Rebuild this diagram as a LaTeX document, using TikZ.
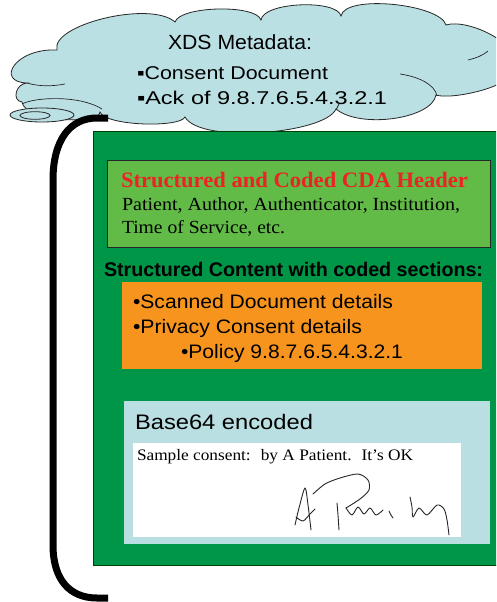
\documentclass[tikz,border=0pt]{standalone}
\usepackage{fontspec}
\usepackage{graphicx}
\setmainfont{Liberation Sans}
\newfontfamily\timesf{Liberation Serif}
\definecolor{cloudfill}{RGB}{187,224,228}
\definecolor{outergreen}{RGB}{0,150,72}
\definecolor{hdrgreen}{RGB}{98,187,70}
\definecolor{boxorange}{RGB}{247,148,30}
\definecolor{boxblue}{RGB}{185,223,227}
\definecolor{hdrred}{RGB}{237,34,36}
\newcommand\tw[2]{\resizebox{#1pt}{\height}{#2}}
\newcommand\fs[1]{\fontsize{#1}{#1}\selectfont}
\begin{document}
\begin{tikzpicture}[x=1pt,y=-1pt,
  txt/.style={anchor=base west, inner sep=0pt, outer sep=0pt},
  cloudline/.style={draw=black!85, line width=0.8pt},
  inner arc/.style={draw=black!85, line width=0.7pt}]
\path[use as bounding box] (0,0) rectangle (496,602);
\clip (0,0) rectangle (496,602);
% cloud
\filldraw[fill=cloudfill, cloudline] (57,50)
  .. controls (50,25) and (150,0) .. (175,22)
  .. controls (180,6) and (256,4) .. (261,20)
  .. controls (263,2) and (337,-1) .. (341,16)
  .. controls (345,-6) and (440,4) .. (446,25)
  .. controls (468,18) and (525,45) .. (515,70)
  .. controls (510,88) and (450,100) .. (436,95)
  .. controls (432,119) and (360,129) .. (336,109)
  .. controls (325,134) and (200,144) .. (185,117)
  .. controls (180,128) and (105,126) .. (100,112)
  .. controls (100,125) and (25,122) .. (22,102)
  .. controls (12,101) and (15,84) .. (27,83)
  .. controls (-5,82) and (15,48) .. (57,50) -- cycle;
% inner arcs of the cloud
\draw[inner arc] (27,83) .. controls (40,87) and (55,86) .. (65,84);
\draw[inner arc] (22,104) .. controls (35,97) and (80,95) .. (102,109);
\draw[inner arc] (400,74) .. controls (420,77) and (435,85) .. (437,96);
\draw[inner arc] (336,110) .. controls (337,107) .. (339,104);
\draw[inner arc] (468,60) .. controls (476,58) and (482,56) .. (488,51);
% tail ellipses
\filldraw[fill=cloudfill, cloudline] (42,115) ellipse [x radius=32, y radius=7];
\filldraw[fill=cloudfill, cloudline] (35,115.5) ellipse [x radius=15, y radius=3.8];
% cloud text
\node[txt] (xds) at (168,50) {\fs{20.5}\tw{144}{XDS Metadata:}};
\node[txt] (consent) at (137,79) {\fs{18.5}\tw{191}{▪Consent Document}};
\node[txt] (ack) at (137,104) {\fs{18.5}\tw{250}{▪Ack of 9.8.7.6.5.4.3.2.1}};
% bracket
\draw[line width=7pt, line cap=butt] (108,118) -- (97,118)
  .. controls (70,118) and (53,140) .. (53,180) -- (53,545)
  .. controls (53,580) and (70,598) .. (97,598) -- (108,598);
% outer green box
\filldraw[fill=outergreen, draw=black!75!green, line width=1pt] (93,131.5) rectangle (510,565.5);
% header box
\filldraw[fill=hdrgreen, draw=black!85, line width=1pt] (107.5,160.5) rectangle (490,247.5);
\node[txt] (hdr) at (121,187) {\timesf\bfseries\fs{22}\color{hdrred}\tw{347}{Structured and Coded CDA Header}};
\node[txt] (hdr1) at (122,210) {\timesf\fs{18.5}\tw{338}{Patient, Author, Authenticator, Institution,}};
\node[txt] (hdr2) at (122,233) {\timesf\fs{18.5}\tw{163}{Time of Service, etc.}};
% structured content
\node[txt] (sc) at (104,276) {\bfseries\fs{19.7}\tw{379}{Structured Content with coded sections:}};
\fill[boxorange] (122,282) rectangle (482,369);
\node[txt] (o1) at (133,308) {\fs{19.5}\tw{260}{•Scanned Document details}};
\node[txt] (o2) at (133,333) {\fs{19.5}\tw{229}{•Privacy Consent details}};
\node[txt] (o3) at (181,358) {\fs{19.5}\tw{222}{•Policy 9.8.7.6.5.4.3.2.1}};
% base64 box
\fill[boxblue] (124,401) rectangle (490,544);
\node[txt] (b64) at (135,429) {\fs{21}\tw{178}{Base64 encoded}};
\fill[white] (133,443) rectangle (461,537);
\node[txt] (sample) at (137,460.5) {\timesf\fs{16}\tw{276}{Sample consent:~ by A Patient.~ It’s OK}};
% signature
\begin{scope}[line width=0.9pt, line cap=round, line join=round, draw=black!85]
\draw plot[smooth] coordinates {(295,525) (299,508) (305,488) (308,505) (311,530)};
\draw plot[smooth] coordinates {(296,517) (303,521) (310,514) (315,509)};
\draw plot[smooth] coordinates {(313,494) (325,484) (340,478) (358,474) (368,480) (369,490) (360,499) (346,508)};
\draw plot[smooth] coordinates {(337,503) (338,515) (339,530)};
\draw plot[smooth] coordinates {(346,508) (352,515) (358,507) (364,514) (370,508) (376,515) (383,510)};
\draw plot[smooth] coordinates {(389,511) (391,515) (393,518)};
\draw plot[smooth] coordinates {(410,497) (412,507) (413,517) (419,508) (427,515) (437,505) (444,509) (447,520) (449,535)};
\end{scope}
\end{tikzpicture}
\end{document}
